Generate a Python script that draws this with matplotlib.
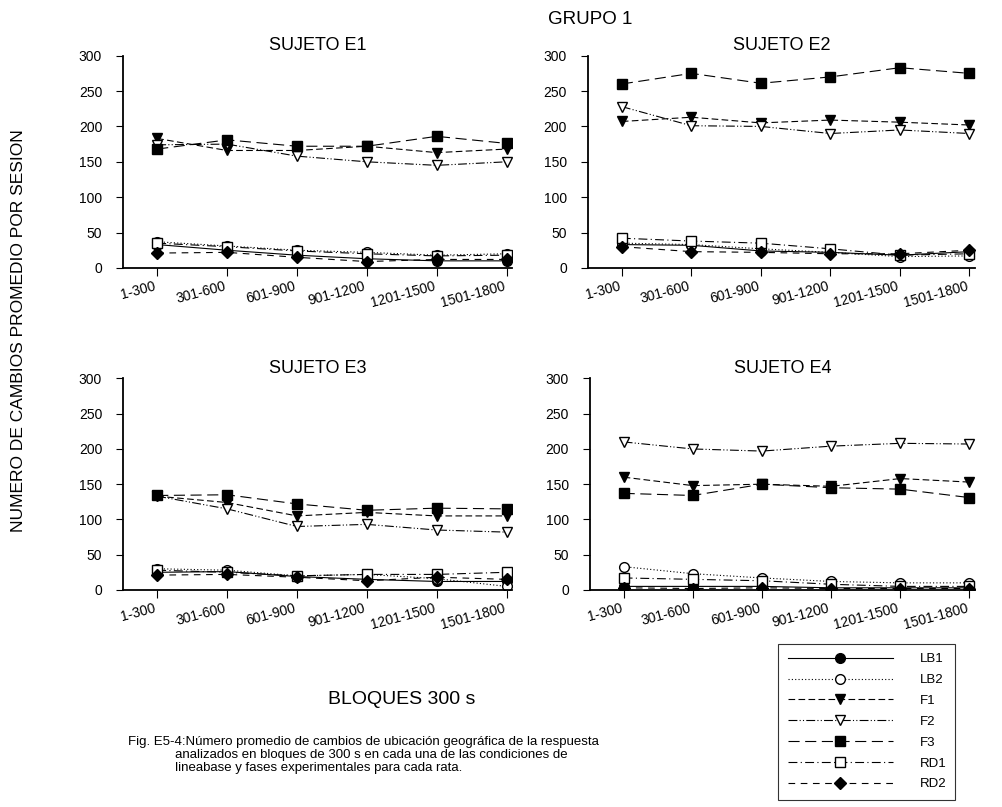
import matplotlib
matplotlib.use("Agg")
import matplotlib.pyplot as plt

plt.rcParams["font.family"] = ["Liberation Sans", "DejaVu Sans"]

bloques = ["1-300", "301-600", "601-900", "901-1200", "1201-1500", "1501-1800"]
series = ["LB1", "LB2", "F1", "F2", "F3", "RD1", "RD2"]
sujetos = ["SUJETO E1", "SUJETO E2", "SUJETO E3", "SUJETO E4"]

# values, one dict per subject
e1 = {
    "LB1": [33, 25, 18, 13, 10, 10],
    "LB2": [37, 31, 25, 22, 18, 20],
    "F1": [183, 166, 166, 172, 163, 168],
    "F2": [174, 175, 158, 150, 145, 150],
    "F3": [168, 181, 172, 172, 186, 176],
    "RD1": [35, 30, 24, 20, 17, 18],
    "RD2": [21, 22, 15, 9, 12, 12],
}
e2 = {
    "LB1": [33, 32, 24, 22, 18, 23],
    "LB2": [35, 33, 27, 22, 16, 17],
    "F1": [207, 213, 205, 209, 206, 202],
    "F2": [228, 201, 200, 190, 195, 190],
    "F3": [260, 275, 261, 270, 283, 275],
    "RD1": [42, 38, 35, 27, 18, 20],
    "RD2": [30, 23, 22, 20, 20, 25],
}
e3 = {
    "LB1": [25, 26, 19, 15, 12, 12],
    "LB2": [30, 28, 20, 22, 16, 5],
    "F1": [133, 124, 105, 110, 105, 105],
    "F2": [133, 115, 90, 93, 85, 82],
    "F3": [134, 135, 122, 113, 116, 115],
    "RD1": [28, 25, 20, 22, 22, 25],
    "RD2": [21, 22, 18, 13, 18, 15],
}
e4 = {
    "LB1": [5, 5, 5, 3, 3, 3],
    "LB2": [33, 23, 17, 12, 10, 10],
    "F1": [160, 148, 150, 147, 158, 153],
    "F2": [210, 200, 197, 204, 208, 207],
    "F3": [137, 134, 150, 145, 143, 131],
    "RD1": [17, 15, 13, 8, 5, 5],
    "RD2": [3, 2, 3, 2, 2, 2],
}
datos = [e1, e2, e3, e4]

estilo = {
    "LB1": dict(ls="-", marker="o", mfc="black"),
    "LB2": dict(ls=(0, (1, 2)), marker="o", mfc="white"),
    "F1": dict(ls=(0, (6, 3)), marker="v", mfc="black"),
    "F2": dict(ls=(0, (8, 2, 1, 2, 1, 2)), marker="v", mfc="white"),
    "F3": dict(ls=(0, (10, 5)), marker="s", mfc="black"),
    "RD1": dict(ls=(0, (8, 3, 1, 3)), marker="s", mfc="white"),
    "RD2": dict(ls=(0, (6, 5)), marker="D", mfc="black"),
}

fig = plt.figure(figsize=(10.03, 8.07), dpi=100)
pos = [
    [0.1226, 0.668, 0.388, 0.263],
    [0.586, 0.668, 0.386, 0.263],
    [0.1226, 0.269, 0.388, 0.262],
    [0.588, 0.269, 0.384, 0.262],
]

x = list(range(len(bloques)))
for p, d, titulo in zip(pos, datos, sujetos):
    ax = fig.add_axes(p)
    for s in series:
        st = estilo[s]
        ax.plot(x, d[s], color="black", lw=0.8, ls=st["ls"], marker=st["marker"],
                mfc=st["mfc"], mec="black", ms=7 if st["marker"] != "D" else 6,
                label=s)
    ax.set_xlim(-0.49, 5.08)
    ax.set_ylim(0, 300)
    ax.set_yticks(range(0, 301, 50))
    ax.set_xticks(x)
    ax.set_xticklabels(bloques, rotation=15, ha="right", fontsize=10)
    ax.tick_params(axis="y", labelsize=10, direction="out", length=5, width=0.8, pad=10)
    ax.tick_params(axis="x", direction="out", length=6, width=0.8, pad=2)
    ax.spines["top"].set_visible(False)
    ax.spines["right"].set_visible(False)
    ax.spines["left"].set_linewidth(1.3)
    ax.spines["bottom"].set_linewidth(1.3)
    ax.set_title(titulo, fontsize=13, pad=4)

handles, labels = ax.get_legend_handles_labels()
leg = fig.legend(handles, labels, loc="upper left", bbox_to_anchor=(0.776, 0.202),
                 fontsize=9.5, handlelength=8, frameon=True, fancybox=False,
                 edgecolor="black", borderpad=0.7, labelspacing=0.65,
                 handletextpad=2.0, borderaxespad=0)
leg.get_frame().set_linewidth(0.8)

fig.text(0.588, 0.976, "GRUPO 1", ha="center", va="center", fontsize=13.5)
fig.text(0.018, 0.59, "NUMERO DE CAMBIOS PROMEDIO POR SESION", rotation=90,
         ha="center", va="center", fontsize=12.5)
fig.text(0.40, 0.133, "BLOQUES 300 s", ha="center", va="center", fontsize=14)
fig.text(0.128, 0.064,
         "Fig. E5-4:Número promedio de cambios de ubicación geográfica de la respuesta\n"
         "             analizados en bloques de 300 s en cada una de las condiciones de\n"
         "             lineabase y fases experimentales para cada rata.",
         ha="left", va="center", fontsize=9.5, linespacing=1.1)

fig.savefig("out.png", dpi=100)
